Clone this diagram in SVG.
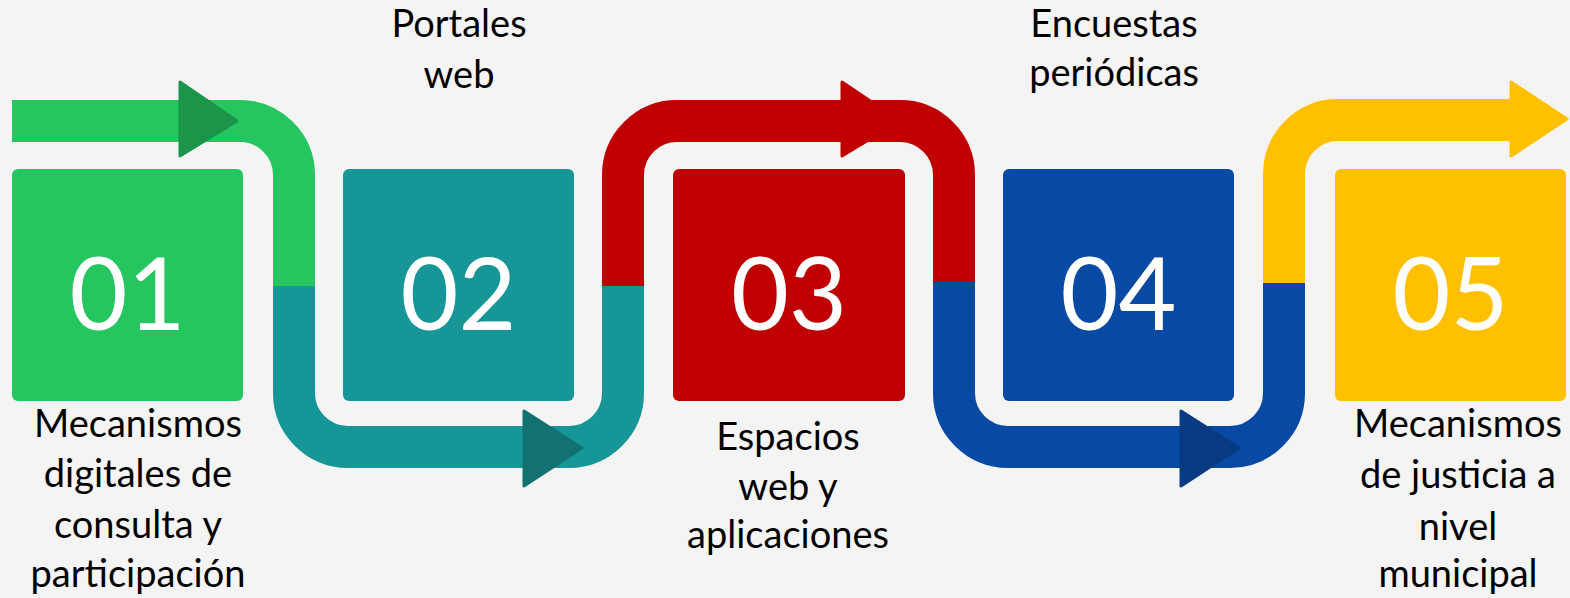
<svg xmlns="http://www.w3.org/2000/svg" width="1570" height="598" viewBox="0 0 1570 598">
<style>
.band{fill:none;stroke-width:42;stroke-linecap:butt;stroke-linejoin:miter}
.num{font-family:Lato,"Liberation Sans",sans-serif;font-size:100px;fill:#ffffff;text-anchor:middle}
.lbl{font-family:Lato,"Liberation Sans",sans-serif;font-size:38px;fill:#000000;text-anchor:middle}
.box{stroke:none}
.head{stroke-linejoin:round;stroke-width:3}
</style>
<rect width="1570" height="598" fill="#f4f4f4"/>
<g id="connectors">
<path class="band" stroke="#25c560" d="M12,121 H240 A54,54 0 0 1 294,175 V286"/>
<path class="band" stroke="#169696" d="M294,286 V393 A54,54 0 0 0 348,447 H569 A54,54 0 0 0 623,393 V286"/>
<path class="band" stroke="#c00000" d="M623,286 V175 A54,54 0 0 1 677,121 H900 A54,54 0 0 1 954,175 V282"/>
<path class="band" stroke="#0849a3" d="M954,282 V393 A54,54 0 0 0 1008,447 H1230 A54,54 0 0 0 1284,393 V283"/>
<path class="band" stroke="#ffc000" d="M1284,283 V174 A54,54 0 0 1 1338,120 H1512"/>
<polygon class="head" fill="#1c944a" stroke="#1c944a" points="180,82 237,121 180,156"/>
<polygon class="head" fill="#127272" stroke="#127272" points="524,411 582,448 524,486"/>
<polygon class="head" fill="#c00000" stroke="#c00000" points="842,82 900,121 842,156"/>
<polygon class="head" fill="#083a82" stroke="#083a82" points="1181,411 1239,448 1181,486"/>
<polygon class="head" fill="#ffc000" stroke="#ffc000" points="1511,82 1567,119 1511,156"/>
</g>
<g id="node1">
<rect class="box" x="12" y="169" width="231" height="232" rx="6" fill="#25c560"/>
<text class="num" x="127.5" y="330">01</text>
<text class="lbl" x="138" y="437">Mecanismos</text>
<text class="lbl" x="138" y="487">digitales de</text>
<text class="lbl" x="138" y="538">consulta y</text>
<text class="lbl" x="138" y="587">participación</text>
</g>
<g id="node2">
<rect class="box" x="343" y="169" width="231" height="232" rx="6" fill="#169696"/>
<text class="num" x="458.5" y="330">02</text>
<text class="lbl" x="459" y="37">Portales</text>
<text class="lbl" x="459" y="88">web</text>
</g>
<g id="node3">
<rect class="box" x="673" y="169" width="232" height="232" rx="6" fill="#c00000"/>
<text class="num" x="789" y="330">03</text>
<text class="lbl" x="788" y="450">Espacios</text>
<text class="lbl" x="788" y="500">web y</text>
<text class="lbl" x="788" y="548">aplicaciones</text>
</g>
<g id="node4">
<rect class="box" x="1003" y="169" width="231" height="232" rx="6" fill="#0849a3"/>
<text class="num" x="1118.5" y="330">04</text>
<text class="lbl" x="1114" y="37">Encuestas</text>
<text class="lbl" x="1114" y="86">periódicas</text>
</g>
<g id="node5">
<rect class="box" x="1335" y="169" width="231" height="232" rx="6" fill="#ffc000"/>
<text class="num" x="1450.5" y="330">05</text>
<text class="lbl" x="1458" y="437">Mecanismos</text>
<text class="lbl" x="1458" y="488">de justicia a</text>
<text class="lbl" x="1458" y="540">nivel</text>
<text class="lbl" x="1458" y="587">municipal</text>
</g>
</svg>
